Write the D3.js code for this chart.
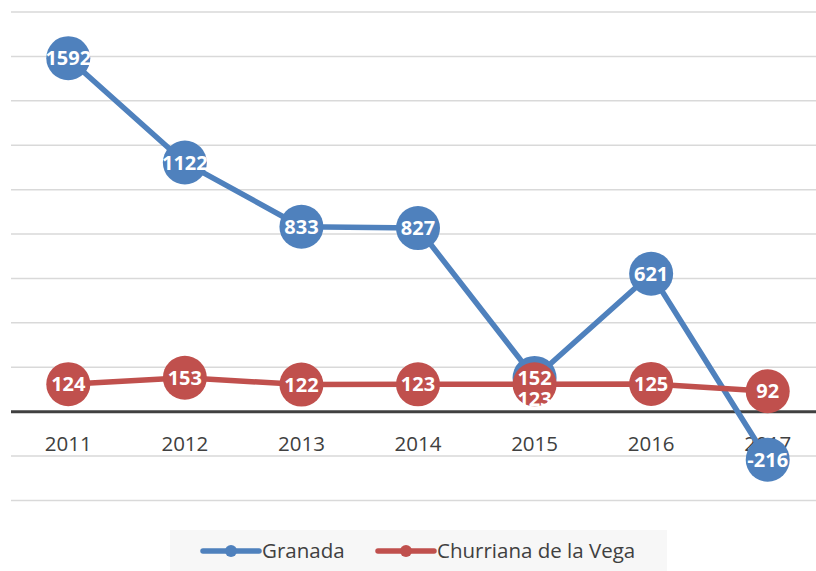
<!DOCTYPE html>
<html>
<head>
<meta charset="utf-8">
<script src="https://cdn.jsdelivr.net/npm/d3@7"></script>
<style>
  body { margin: 0; background: #fff; }
  svg { display: block; font-family: "Open Sans", "Noto Sans", sans-serif; }
</style>
</head>
<body>
<div id="chart"></div>
<script>
// Years on the x axis
const years = ["2011", "2012", "2013", "2014", "2015", "2016", "2017"];
// Series values
const granada = [1592, 1122, 833, 827, 152, 621, -216];
const churriana = [124, 153, 122, 123, 123, 125, 92];
const seriesNames = ["Granada", "Churriana de la Vega"];
const seriesColors = ["#4f81bd", "#c0504d"];
// y gridlines
const yTicks = [-400, -200, 0, 200, 400, 600, 800, 1000, 1200, 1400, 1600, 1800];

const width = 816, height = 571;

const svg = d3.select("#chart").append("svg")
    .attr("width", width)
    .attr("height", height);

const x = d3.scalePoint()
    .domain(years)
    .range([10, 826])
    .padding(0.5);

const y = d3.scaleLinear()
    .domain([-400, 1800])
    .range([500.5, 12]);

// gridlines
svg.append("g")
    .selectAll("line")
    .data(yTicks.filter(d => d !== 0))
    .enter().append("line")
    .attr("x1", 11).attr("x2", width)
    .attr("y1", d => y(d)).attr("y2", d => y(d))
    .attr("stroke", "#d9d9d9")
    .attr("stroke-width", 1.5);

// zero line
svg.append("line")
    .attr("x1", 11).attr("x2", width)
    .attr("y1", y(0)).attr("y2", y(0))
    .attr("stroke", "#404040")
    .attr("stroke-width", 3);

// x labels
svg.append("g")
    .selectAll("text")
    .data(years)
    .enter().append("text")
    .attr("x", d => x(d))
    .attr("y", y(0) + 39)
    .attr("text-anchor", "middle")
    .attr("font-size", 20.5)
    .attr("fill", "#404040")
    .text(d => d);

const series = [granada, churriana];

const line = d3.line()
    .x((d, i) => x(years[i]))
    .y(d => y(d));

series.forEach(function (values, s) {
    const g = svg.append("g");
    g.append("path")
        .datum(values)
        .attr("d", line)
        .attr("fill", "none")
        .attr("stroke", seriesColors[s])
        .attr("stroke-width", 5.5)
        .attr("stroke-linejoin", "round");
    g.selectAll("circle")
        .data(values)
        .enter().append("circle")
        .attr("cx", (d, i) => x(years[i]))
        .attr("cy", d => y(d))
        .attr("r", 22)
        .attr("fill", seriesColors[s]);
});

// data labels, pushed down when they collide with the other series' label
series.forEach(function (values, s) {
    svg.append("g")
        .selectAll("text")
        .data(values)
        .enter().append("text")
        .attr("x", (d, i) => x(years[i]))
        .attr("y", function (d, i) {
            let yy = y(d);
            if (s === 1 && Math.abs(y(granada[i]) - yy) < 18) yy = y(granada[i]) + 21;
            return yy;
        })
        .attr("dy", "0.35em")
        .attr("text-anchor", "middle")
        .attr("font-size", 20)
        .attr("font-weight", "bold")
        .attr("fill", "#fff")
        .text(d => d);
});

// legend
const legend = svg.append("g");
legend.append("rect")
    .attr("x", 170).attr("y", 530)
    .attr("width", 497).attr("height", 45)
    .attr("fill", "#f7f7f7");

const legendX = [203, 378];
seriesNames.forEach(function (name, s) {
    const lx = legendX[s];
    legend.append("line")
        .attr("x1", lx).attr("x2", lx + 56)
        .attr("y1", 551).attr("y2", 551)
        .attr("stroke", seriesColors[s])
        .attr("stroke-width", 5.5)
        .attr("stroke-linecap", "round");
    legend.append("circle")
        .attr("cx", lx + 28).attr("cy", 551)
        .attr("r", 6)
        .attr("fill", seriesColors[s]);
    legend.append("text")
        .attr("x", lx + 59)
        .attr("y", 551)
        .attr("dy", "0.35em")
        .attr("font-size", 20.5)
        .attr("fill", "#404040")
        .text(name);
});
</script>
</body>
</html>
